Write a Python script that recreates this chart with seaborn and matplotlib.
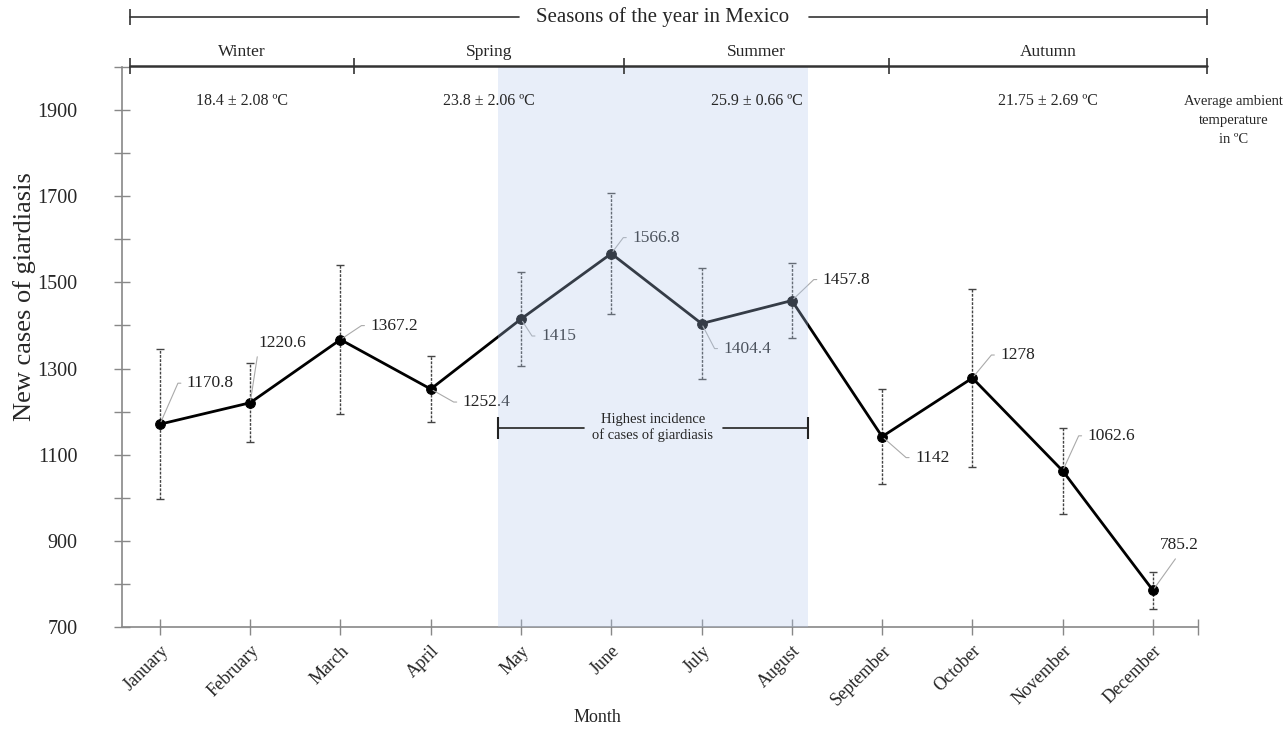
import numpy as np
import matplotlib.pyplot as plt
import seaborn as sns

# Data
months = ["January", "February", "March", "April", "May", "June",
          "July", "August", "September", "October", "November", "December"]
cases = [1170.8, 1220.6, 1367.2, 1252.4, 1415, 1566.8,
         1404.4, 1457.8, 1142, 1278, 1062.6, 785.2]
errors = [174, 92, 172, 76, 110, 140, 129, 88, 110, 207, 100, 43]
labels = ["1170.8", "1220.6", "1367.2", "1252.4", "1415", "1566.8",
          "1404.4", "1457.8", "1142", "1278", "1062.6", "785.2"]

seasons = ["Winter", "Spring", "Summer", "Autumn"]
season_temps = ["18.4 ± 2.08 ºC", "23.8 ± 2.06 ºC", "25.9 ± 0.66 ºC", "21.75 ± 2.69 ºC"]

# layout (data coords on the month axis, label offsets in pixels)
season_edges = [-0.33, 2.15, 5.14, 8.08, 11.6]
label_offsets = [(27, 41), (8, 60), (30, 14), (32, -13), (20, -17), (21, 16),
                 (22, -25), (31, 21), (33, -21), (28, 23), (25, 35), (7, 45)]
# leader anchor on the text: None -> kinked leader to left-middle
straight_leaders = {1: (0.0, 0.0), 11: (0.5, 0.0)}
shade = (3.74, 7.18)

sns.set_style("ticks")
plt.rcParams["font.family"] = ["Liberation Serif", "DejaVu Serif"]

fig = plt.figure(figsize=(12.83, 7.29), dpi=100)
ax = fig.add_axes([0.0951, 0.1399, 0.8387, 0.7682])

x = np.arange(len(months))

# error bars (dashed, thin)
eb = ax.errorbar(x, cases, yerr=errors, fmt="none", ecolor="#444444",
                 elinewidth=1, capsize=3, capthick=1, zorder=2)
eb[2][0].set_linestyle((0, (2, 1)))

sns.lineplot(x=x, y=cases, ax=ax, color="black", linewidth=2,
             marker="o", markersize=7, markeredgecolor="black", zorder=3)

# value labels with leader lines (short horizontal piece next to the text)
for i, (xi, yi, lab, off) in enumerate(zip(x, cases, labels, label_offsets)):
    if i in straight_leaders:
        conn, rel = "arc3", straight_leaders[i]
    else:
        ang = np.degrees(np.arctan2(off[1], off[0] - 9))
        conn, rel = f"angle,angleA=180,angleB={ang:.1f},rad=0", (0, 0.5)
    ax.annotate(lab, xy=(xi, yi), xytext=off, textcoords="offset pixels",
                ha="left", va="center", fontsize=12.5, color="#222222",
                arrowprops=dict(arrowstyle="-", color="#aaaaaa", lw=0.8,
                                shrinkA=2, shrinkB=2, relpos=rel,
                                connectionstyle=conn),
                zorder=4)

# shaded period drawn on top, semi-transparent
ax.axvspan(shade[0], shade[1], color=(0.70, 0.79, 0.93), alpha=0.3, lw=0, zorder=5)

# highest incidence bracket
yb = 1163
ax.plot([shade[0], 4.70], [yb, yb], color="#222222", lw=1.2, zorder=6)
ax.plot([6.24, shade[1]], [yb, yb], color="#222222", lw=1.2, zorder=6)
ax.plot([shade[0], shade[1]], [yb, yb], ls="none", marker="|", ms=16, mew=1.5,
        color="#222222", zorder=6)
ax.text(5.46, yb, "Highest incidence\nof cases of giardiasis", ha="center",
        va="center", fontsize=10.5, linespacing=1.2, zorder=6)

# seasons header
ys = 2116
ax.plot([season_edges[0], 3.98], [ys, ys], color="#333333", lw=1.2, clip_on=False)
ax.plot([7.19, season_edges[-1]], [ys, ys], color="#333333", lw=1.2, clip_on=False)
ax.plot([season_edges[0], season_edges[-1]], [ys, ys], ls="none", marker="|",
        ms=12, mew=1.2, color="#333333", clip_on=False)
ax.text(5.57, ys, "Seasons of the year in Mexico", ha="center", va="center",
        fontsize=15, clip_on=False)

yseason = 2003
ax.plot([season_edges[0], season_edges[-1]], [yseason, yseason], color="#333333",
        lw=1.8, clip_on=False, zorder=6)
ax.plot(season_edges, [yseason] * len(season_edges), ls="none", marker="|",
        ms=12, mew=1.2, color="#333333", clip_on=False, zorder=6)
for i, (name, temp) in enumerate(zip(seasons, season_temps)):
    xc = (season_edges[i] + season_edges[i + 1]) / 2
    ax.text(xc, 2034, name, ha="center", va="center", fontsize=12.5, clip_on=False)
    ax.text(xc, 1922, temp, ha="center", va="center", fontsize=11.5, zorder=6)
ax.text(11.89, 1935, "Average ambient\ntemperature\nin ºC", ha="center", va="top",
        fontsize=10.5, linespacing=1.6, clip_on=False)

# axes styling
ax.set_xlim(-0.42, 11.5)
ax.set_ylim(700, 2000)
ax.set_xticks(x)
ax.set_xticklabels(months, rotation=45, ha="right", rotation_mode="anchor", fontsize=13)
ax.set_xticks([11.5], minor=True)
ax.set_yticks(np.arange(700, 2000, 200))
ax.set_yticks(np.arange(800, 2001, 200), minor=True)
ax.tick_params(axis="y", which="both", direction="inout", length=12, width=1,
               color="#888888", labelsize=14.5, pad=26)
ax.tick_params(axis="x", which="both", direction="inout", length=12, width=1,
               color="#888888", pad=5)
for s in ["top", "right"]:
    ax.spines[s].set_visible(False)
for s in ["left", "bottom"]:
    ax.spines[s].set_color("#888888")
    ax.spines[s].set_linewidth(1.2)

ax.set_xlabel("Month", fontsize=13)
ax.xaxis.set_label_coords(0.442, -0.146)
ax.set_ylabel("New cases of giardiasis", fontsize=19)
ax.yaxis.set_label_coords(-0.08, 0.59)

fig.savefig("out.png", dpi=100)
